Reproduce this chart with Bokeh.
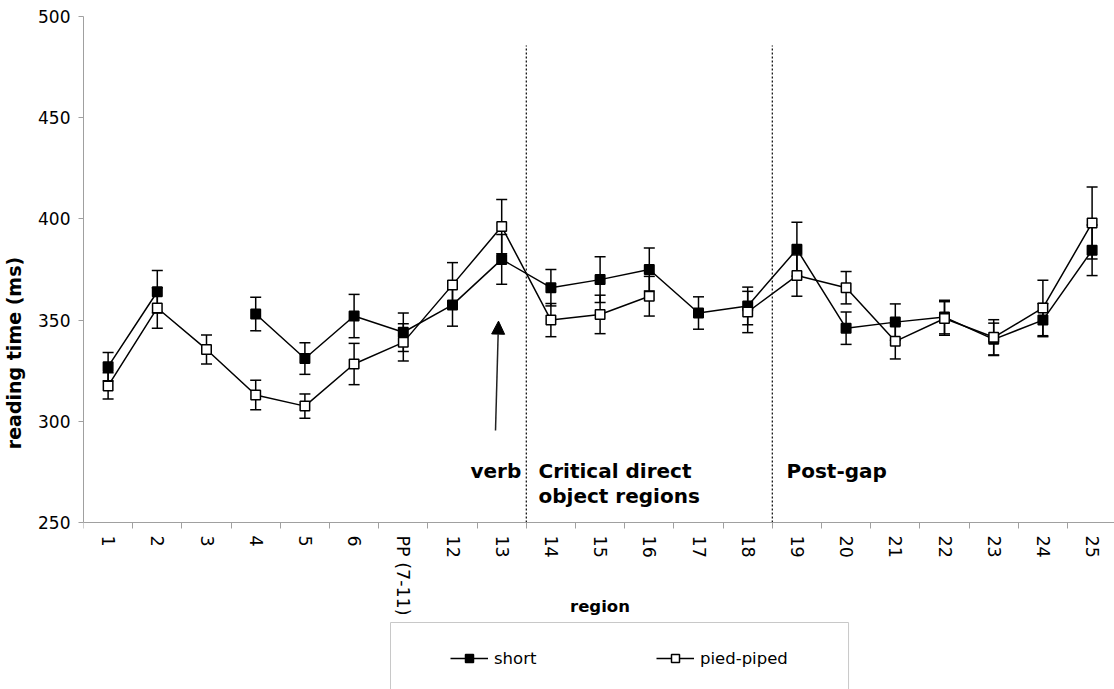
import numpy as np
from bokeh.plotting import figure
from bokeh.models import (ColumnDataSource, Whisker, TeeHead, FixedTicker, Legend, LegendItem,
                          Label, Arrow, NormalHead, BoxAnnotation)
from bokeh.embed import file_html
from bokeh.resources import INLINE

nan = float("nan")
regions = ["1", "2", "3", "4", "5", "6", "PP (7-11)", "12", "13", "14", "15", "16", "17", "18",
           "19", "20", "21", "22", "23", "24", "25"]
short = [327, 364, nan, 353, 331, 352, 344, 357.5, 380, 366, 370, 375, 353.5, 357,
         385, 346, 349, 351.5, 340.5, 350, 384.5]
short_err = [7, 10.5, nan, 8.3, 7.8, 10.7, 9.5, 10.5, 12.3, 9, 11.3, 10.6, 8, 9.3,
             13.3, 8, 9, 8.3, 8, 8.2, 12.5]
pied = [317.5, 356, 335.5, 313, 307.5, 328.3, 339, 367.4, 396.2, 350, 352.8, 361.8, nan, 354,
        372, 366, 339.5, 350.8, 341.5, 356, 398]
pied_err = [6.5, 10, 7.2, 7.3, 6, 10.2, 9.2, 11, 13.4, 8.2, 9.5, 9.8, nan, 10.2,
            10.2, 8, 8.7, 8.3, 8.7, 13.7, 17.8]
y_ticks = [250, 300, 350, 400, 450, 500]

FONT = "DejaVu Sans"
xs = list(range(1, len(regions) + 1))

# frame runs to the bottom of the page; the data area is 250..500, the x axis sits at 250
PX_PER_UNIT = 506 / 250
p = figure(frame_width=1033, frame_height=673, output_backend="svg", toolbar_location=None,
           x_range=(0.5, 0.5 + 1033 / 49.2), y_range=(500 - 673 / PX_PER_UNIT, 500),
           min_border_left=81, min_border_right=0, min_border_top=16, min_border_bottom=0)
p.outline_line_color = None
p.xgrid.grid_line_color = None
p.ygrid.grid_line_color = None
p.background_fill_color = "white"
p.border_fill_color = "white"

# axes
p.xaxis.fixed_location = 250
p.xaxis.ticker = FixedTicker(ticks=xs, minor_ticks=[x + 0.5 for x in range(0, len(regions) + 1)])
p.xaxis.major_label_overrides = {x: r for x, r in zip(xs, regions)}
p.xaxis.major_label_orientation = "vertical"
p.xaxis.major_tick_line_color = None
p.xaxis.major_tick_out = 0
p.xaxis.major_tick_in = 0
p.xaxis.minor_tick_out = 6
p.xaxis.minor_tick_in = 0
p.xaxis.minor_tick_line_color = "#a0a0a0"
p.xaxis.axis_line_color = "#a0a0a0"
p.xaxis.major_label_standoff = 7
p.xaxis.major_label_text_font = FONT
p.xaxis.major_label_text_font_size = "17.5px"
p.xaxis.major_label_text_color = "black"
p.xaxis.axis_label = "region"
p.xaxis.axis_label_text_font = FONT
p.xaxis.axis_label_text_font_style = "bold"
p.xaxis.axis_label_text_font_size = "16.5px"
p.xaxis.axis_label_text_color = "black"
p.xaxis.axis_label_standoff = -22

p.yaxis.bounds = (250, 500)
p.yaxis.ticker = FixedTicker(ticks=y_ticks)
p.yaxis.minor_tick_line_color = None
p.yaxis.major_tick_out = 5
p.yaxis.major_tick_in = 0
p.yaxis.major_tick_line_color = "#a0a0a0"
p.yaxis.axis_line_color = "#a0a0a0"
p.yaxis.major_label_standoff = 8
p.yaxis.major_label_text_font = FONT
p.yaxis.major_label_text_font_size = "17px"
p.yaxis.major_label_text_color = "black"
p.yaxis.axis_label = "reading time (ms)"
p.yaxis.axis_label_text_font = FONT
p.yaxis.axis_label_text_font_style = "bold"
p.yaxis.axis_label_text_font_size = "19px"
p.yaxis.axis_label_text_color = "black"
p.yaxis.axis_label_standoff = 10

# dotted section separators
p.segment(x0=[9.5, 14.5], y0=[250, 250], x1=[9.5, 14.5], y1=[485.7, 485.7],
          line_color="black", line_width=1.2, line_dash="2 2")

def series(vals, errs, fill):
    src = ColumnDataSource(dict(x=xs, y=vals))
    ex = [x for x, v, e in zip(xs, vals, errs) if not np.isnan(v)]
    up = [v + e for v, e in zip(vals, errs) if not np.isnan(v)]
    lo = [v - e for v, e in zip(vals, errs) if not np.isnan(v)]
    esrc = ColumnDataSource(dict(x=ex, upper=up, lower=lo))
    w = Whisker(source=esrc, base="x", upper="upper", lower="lower", line_width=1.5,
                line_color="black",
                upper_head=TeeHead(size=11, line_width=1.5, line_color="black"),
                lower_head=TeeHead(size=11, line_width=1.5, line_color="black"))
    p.add_layout(w)
    ln = p.line("x", "y", source=src, line_color="black", line_width=1.5)
    sc = p.scatter("x", "y", source=src, marker="square", size=9.5, fill_color=fill,
                   line_color="black", line_width=1.5)
    return ln, sc

l1, s1 = series(short, short_err, "black")
l2, s2 = series(pied, pied_err, "white")

# annotations
p.add_layout(Arrow(x_start=8.874, y_start=295.5, x_end=8.935, y_end=349.5, line_width=1.5,
                   line_color="#222222",
                   end=NormalHead(size=13, fill_color="black", line_color="black", line_width=1)))
for txt, x, y in [("verb", 8.366, 275.2), ("Critical direct", 9.748, 275.2),
                  ("object regions", 9.748, 262.9), ("Post-gap", 14.79, 275.2)]:
    p.add_layout(Label(x=x, y=y, text=txt, text_font=FONT, text_font_style="bold",
                       text_font_size="20px", text_baseline="middle", text_align="left",
                       text_color="black"))

# legend frame (wider than the legend's own padding allows)
p.add_layout(BoxAnnotation(left=6.74, right=16.05, top=200.6, bottom=150,
                           fill_color="white", fill_alpha=1,
                           line_color="#c8c8c8", line_width=1, line_alpha=1))

legend = Legend(items=[LegendItem(label="short", renderers=[l1, s1]),
                       LegendItem(label="pied-piped", renderers=[l2, s2])],
                orientation="horizontal", location=(367, 21),
                glyph_width=38, glyph_height=20, label_height=20, label_width=123,
                label_standoff=6, spacing=39, padding=0, margin=0,
                label_text_font=FONT, label_text_font_size="16.5px",
                label_text_color="black",
                border_line_color=None, background_fill_alpha=0)
p.add_layout(legend, "center")

open("out.html", "w").write(file_html(p, INLINE))
